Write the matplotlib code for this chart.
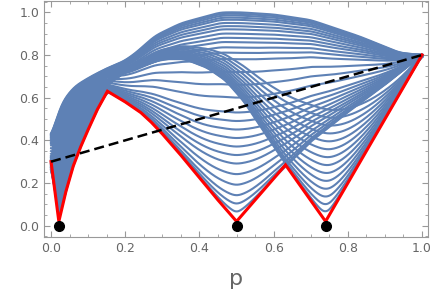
import numpy as np
import matplotlib.pyplot as plt
from matplotlib.ticker import MultipleLocator

# red lower envelope
env_p = [0.0, 0.021, 0.04, 0.06, 0.08, 0.10, 0.125, 0.152, 0.2, 0.242, 0.27, 0.3,
         0.35, 0.4, 0.45, 0.5, 0.632, 0.74, 1.0]
env_y = [0.30, 0.02, 0.16, 0.28, 0.37, 0.45, 0.545, 0.63, 0.58, 0.53, 0.485, 0.43,
         0.33, 0.225, 0.12, 0.02, 0.285, 0.02, 0.80]

# lowest curve of the group that dips at p = 0.5
base_a_p = [0.0, 0.021, 0.04, 0.06, 0.08, 0.10, 0.125, 0.152, 0.2, 0.242, 0.27, 0.3,
            0.35, 0.4, 0.45, 0.5, 0.6, 0.7, 0.8, 0.9, 1.0]
base_a_y = [0.30, 0.02, 0.16, 0.28, 0.37, 0.45, 0.545, 0.63, 0.58, 0.53, 0.485, 0.43,
            0.33, 0.225, 0.12, 0.02, 0.215, 0.39, 0.53, 0.66, 0.80]

# lowest curve of the group that dips at p = 0.74
base_b_p = [0.0, 0.021, 0.06, 0.10, 0.152, 0.2, 0.3, 0.36, 0.42, 0.47, 0.52, 0.58,
            0.632, 0.74, 0.85, 1.0]
base_b_y = [0.30, 0.02, 0.30, 0.48, 0.66, 0.72, 0.78, 0.78, 0.74, 0.68, 0.58, 0.42,
            0.285, 0.02, 0.35, 0.80]

# upper edge of the blue family
top_p = [0.0, 0.009, 0.027, 0.063, 0.108, 0.152, 0.196, 0.228, 0.28, 0.35, 0.457,
         0.51, 0.6, 0.70, 0.833, 0.94, 1.0]
top_y = [0.40, 0.466, 0.575, 0.653, 0.70, 0.739, 0.77, 0.809, 0.89, 0.949, 1.0,
         1.0, 0.99, 0.964, 0.886, 0.81, 0.80]

# curve heights at the dips (fraction of the way up to the upper edge)
levels_a = [0.06, 0.10, 0.14, 0.19, 0.24, 0.29, 0.33, 0.37, 0.41, 0.45, 0.49, 0.53,
            0.60, 0.66, 0.72, 0.78, 0.81, 0.835, 0.86, 0.88, 0.90, 0.92, 0.935, 0.95,
            0.965, 0.975, 0.985, 0.993, 1.0]
levels_b = [0.06, 0.10, 0.14, 0.18, 0.22, 0.26, 0.30, 0.34, 0.38, 0.42, 0.46, 0.50,
            0.54, 0.58]

# dashed line and black points
line_p = [0.0, 1.0]
line_y = [0.30, 0.80]
dot_p = [0.021, 0.5, 0.74]
dot_y = [0.0, 0.0, 0.0]

blue = '#5e81b5'
grey = '#999999'

p = np.linspace(0, 1, 1000)


def smooth(y, w=12):
    k = np.exp(-0.5 * (np.arange(-3 * w, 3 * w + 1) / w) ** 2)
    k /= k.sum()
    return np.convolve(np.pad(y, 3 * w, mode='edge'), k, mode='valid')


T = smooth(np.interp(p, top_p, top_y))
A = smooth(np.interp(p, base_a_p, base_a_y), 6)
B = smooth(np.interp(p, base_b_p, base_b_y), 8)
E = np.interp(p, env_p, env_y)

fig = plt.figure(figsize=(4.31, 2.94), dpi=100)
ax = fig.add_axes([0.1021, 0.1939, 0.8909, 0.8027])

# the left band is packed solid with curves
left = p <= 0.152
ax.fill_between(p[left], E[left], T[left], color=blue, lw=0, zorder=2)

for base, levels in [(B, levels_b), (A, levels_a)]:
    for t in levels:
        y = np.sqrt(base**2 + t**2 * np.clip(T**2 - base**2, 0, None))
        ax.plot(p, y, color=blue, lw=1.5, zorder=2)

ax.plot(env_p, env_y, color='red', lw=2.2, zorder=3, solid_joinstyle='miter')
ax.plot(line_p, line_y, color='black', lw=1.8, ls=(0, (4, 2)), zorder=4)
ax.plot(dot_p, dot_y, 'o', color='black', ms=7, zorder=5)

ax.set_xlim(-0.019, 1.016)
ax.set_ylim(-0.053, 1.053)
ax.xaxis.set_major_locator(MultipleLocator(0.2))
ax.xaxis.set_minor_locator(MultipleLocator(0.05))
ax.yaxis.set_major_locator(MultipleLocator(0.2))
ax.yaxis.set_minor_locator(MultipleLocator(0.05))
ax.tick_params(which='both', direction='in', top=True, right=True, color=grey,
               labelcolor='#666666', labelsize=9)
ax.tick_params(which='major', length=4)
ax.tick_params(which='minor', length=2.5)
for s in ax.spines.values():
    s.set_color(grey)
ax.set_xlabel('p', fontsize=16, color='#666666', labelpad=10)

fig.savefig('out.png', dpi=100)
